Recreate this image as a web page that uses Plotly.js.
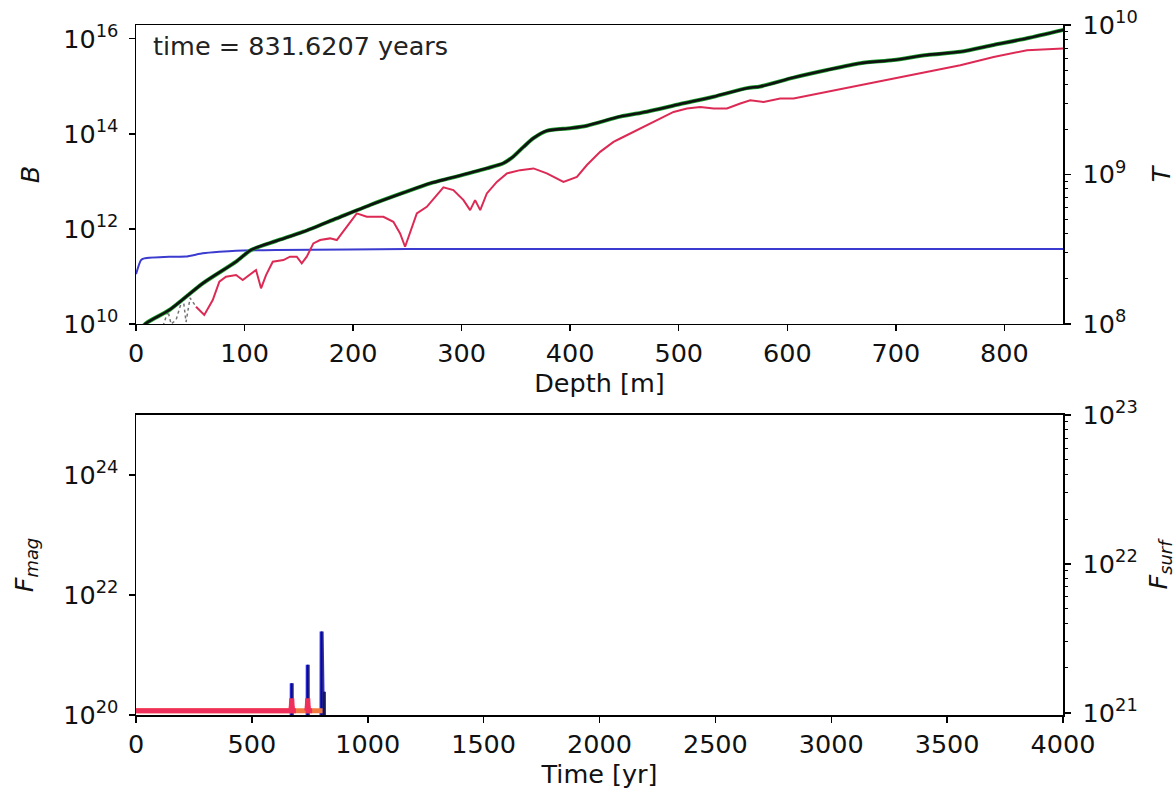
<!DOCTYPE html>
<html>
<head>
<meta charset="utf-8">
<script src="https://cdn.plot.ly/plotly-3.0.1.min.js"></script>
<style>
  html, body { margin: 0; padding: 0; background: #ffffff; }
  #chart { width: 1176px; height: 801px; }
</style>
</head>
<body>
<div id="chart"></div>
<script>
// ---------------- DATA ----------------
// Top panel: profiles versus depth [m]
const tempDepth = [0, 9.2, 30.7, 61.5, 92.2, 106.0, 129.0, 154.2, 185.0, 215.7, 246.4, 271.0, 292.4,
  323.2, 338.5, 347.7, 357.0, 366.2, 378.5, 400.0, 415.4, 446.1, 470.7, 501.4, 532.0, 562.9,
  575.1, 605.8, 636.6, 667.3, 698.0, 728.8, 759.4, 790.1, 820.9, 854.4];
const tempT = [8.5e7, 1.01e8, 1.24e8, 1.87e8, 2.61e8, 3.13e8, 3.59e8, 4.14e8, 5.09e8, 6.25e8, 7.55e8,
  8.73e8, 9.57e8, 1.10e9, 1.19e9, 1.32e9, 1.53e9, 1.75e9, 1.96e9, 2.04e9, 2.12e9, 2.44e9, 2.63e9,
  2.96e9, 3.31e9, 3.78e9, 3.88e9, 4.45e9, 5.00e9, 5.55e9, 5.83e9, 6.30e9, 6.62e9, 7.35e9, 8.15e9, 9.27e9];

const fieldDepth = [55.3, 62.9, 70.7, 76.8, 82.9, 92.2, 98.3, 104.4, 110.6, 115.2, 119.8, 126.0, 135.8,
  141.9, 148.1, 152.7, 157.3, 163.4, 169.6, 178.8, 185.0, 189.6, 197.2, 203.4, 212.6, 227.9, 237.1,
  243.3, 247.9, 252.5, 258.7, 267.9, 283.2, 292.4, 301.7, 307.8, 312.4, 317.1, 323.2, 332.4, 341.7,
  353.9, 366.2, 378.5, 393.8, 406.2, 415.4, 427.6, 439.9, 446.1, 458.3, 470.7, 482.9, 495.2, 507.6,
  519.8, 532.1, 544.4, 556.7, 565.9, 578.2, 593.5, 605.8, 636.6, 667.3, 698.0, 728.8, 759.4, 790.1,
  820.9, 854.4];
const fieldB = [2.31e10, 1.55e10, 3.19e10, 7.74e10, 9.86e10, 1.07e11, 8.39e10, 1.07e11, 1.36e11, 5.62e10,
  1.07e11, 2.04e11, 2.21e11, 2.60e11, 2.60e11, 1.88e11, 2.60e11, 4.95e11, 5.82e11, 6.31e11, 5.82e11,
  8.04e11, 1.41e12, 2.12e12, 1.80e12, 1.80e12, 1.41e12, 8.04e11, 4.21e11, 8.04e11, 2.12e12, 2.91e12,
  7.45e12, 6.53e12, 4.03e12, 2.48e12, 4.03e12, 2.48e12, 5.57e12, 9.75e12, 1.47e13, 1.72e13, 1.87e13,
  1.47e13, 9.75e12, 1.24e13, 2.20e13, 4.17e13, 6.76e13, 7.96e13, 1.10e14, 1.52e14, 2.10e14, 2.88e14,
  3.40e14, 3.67e14, 3.40e14, 3.40e14, 4.34e14, 5.08e14, 4.68e14, 5.52e14, 5.52e14, 7.59e14, 1.05e15,
  1.45e15, 2.00e15, 2.76e15, 4.13e15, 5.70e15, 6.19e15];

const shallowDepth = [24.9, 29.5, 32.3, 36.9, 43.3, 46.1, 49.8, 55.3];
const shallowB = [9.1e9, 1.87e10, 1.0e10, 1.21e10, 3.69e10, 1.10e10, 3.52e10, 2.31e10];

const flatDepth = [0, 4.6, 7.6, 30.7, 46.0, 61.5, 76.8, 92.2, 129.0, 250.0, 854.4];
const flatB = [1.12e11, 2.21e11, 2.40e11, 2.60e11, 2.62e11, 3.06e11, 3.30e11, 3.47e11, 3.59e11, 3.77e11, 3.77e11];

// Bottom panel: fluxes versus time [yr]
const magTime = [0, 671, 672, 673, 740, 741, 742, 800, 801, 802, 810, 811, 812, 831.6];
const fMag = [1e19, 1e19, 3.39e20, 1e19, 1e19, 6.86e20, 1e19, 1e19, 2.47e21, 1e19, 1e19, 2.45e20, 1e19, 1e19];

const surfTime = [0, 668, 670, 672, 674, 676, 690, null, 732, 737, 739, 741, 743, 745, 760];
const fSurf = [1.03e21, 1.03e21, 1.1e21, 1.25e21, 1.1e21, 1.03e21, 1.03e21, null, 1.03e21, 1.03e21,
  1.1e21, 1.25e21, 1.1e21, 1.03e21, 1.03e21];
const surfTime2 = [0, 805];
const fSurf2 = [1.03e21, 1.03e21];

// Tick labels
const depthTicks = [0, 100, 200, 300, 400, 500, 600, 700, 800];
const bTicks = [1e10, 1e12, 1e14, 1e16];
const bTickText = ['10<sup>10</sup>', '10<sup>12</sup>', '10<sup>14</sup>', '10<sup>16</sup>'];
const tTicks = [1e8, 1e9, 1e10];
const tTickText = ['10<sup>8</sup>', '10<sup>9</sup>', '10<sup>10</sup>'];
const timeTicks = [0, 500, 1000, 1500, 2000, 2500, 3000, 3500, 4000];
const magTicks = [1e20, 1e22, 1e24];
const magTickText = ['10<sup>20</sup>', '10<sup>22</sup>', '10<sup>24</sup>'];
const surfTicks = [1e21, 1e22, 1e23];
const surfTickText = ['10<sup>21</sup>', '10<sup>22</sup>', '10<sup>23</sup>'];
const timeLabel = 'time = 831.6207 years';

const FONT = 'DejaVu Sans, Liberation Sans, sans-serif';
const FS = 25.5;

const traces = [
  {x: flatDepth, y: flatB, xaxis: 'x', yaxis: 'y', mode: 'lines',
   line: {color: '#3b3bd0', width: 2, shape: 'spline', smoothing: 0.6}, hoverinfo: 'skip'},
  {x: shallowDepth, y: shallowB, xaxis: 'x', yaxis: 'y', mode: 'lines',
   line: {color: 'rgba(70,70,70,0.75)', width: 1.5, dash: 'dot'}, hoverinfo: 'skip'},
  {x: fieldDepth, y: fieldB, xaxis: 'x', yaxis: 'y', mode: 'lines',
   line: {color: '#dc2a55', width: 2}, hoverinfo: 'skip'},
  {x: tempDepth, y: tempT, xaxis: 'x', yaxis: 'y2', mode: 'lines',
   line: {color: '#18a02a', width: 4, shape: 'spline', smoothing: 0.7}, hoverinfo: 'skip'},
  {x: tempDepth, y: tempT, xaxis: 'x', yaxis: 'y2', mode: 'lines',
   line: {color: '#111111', width: 2.6, shape: 'spline', smoothing: 0.7}, hoverinfo: 'skip'},

  {x: surfTime2, y: fSurf2, xaxis: 'x2', yaxis: 'y4', mode: 'lines',
   line: {color: '#f07a40', width: 5}, hoverinfo: 'skip'},
  {x: surfTime, y: fSurf, xaxis: 'x2', yaxis: 'y4', mode: 'lines',
   line: {color: '#f0305c', width: 5}, connectgaps: false, hoverinfo: 'skip'},
  {x: magTime, y: fMag, xaxis: 'x2', yaxis: 'y3', mode: 'lines',
   line: {color: '#2a2ae0', width: 4}, hoverinfo: 'skip'},
  {x: magTime, y: fMag, xaxis: 'x2', yaxis: 'y3', mode: 'lines',
   line: {color: '#14143a', width: 1.6}, hoverinfo: 'skip'}
];

const axisCommon = {
  showgrid: false, zeroline: false, showline: true, linecolor: '#000', linewidth: 1.5,
  ticks: 'outside', ticklen: 6, tickwidth: 1.5, tickcolor: '#000',
  tickfont: {family: FONT, size: FS, color: '#111'}, automargin: false
};
const minorTicks = {tickmode: 'linear', dtick: 'D1', ticks: 'outside', ticklen: 3.5,
  tickwidth: 1, tickcolor: '#000', showgrid: false};

const layout = {
  width: 1176, height: 801,
  margin: {l: 136, r: 113, t: 25, b: 86, pad: 0},
  paper_bgcolor: '#ffffff', plot_bgcolor: '#ffffff',
  showlegend: false,
  font: {family: FONT, size: FS, color: '#111'},
  xaxis: Object.assign({}, axisCommon, {
    domain: [0, 1], anchor: 'y', range: [0, 854], mirror: true,
    tickmode: 'array', tickvals: depthTicks,
    title: {text: 'Depth [m]', font: {family: FONT, size: FS, color: '#111'}, standoff: 2}
  }),
  yaxis: Object.assign({}, axisCommon, {
    domain: [0.5667, 1], anchor: 'x', type: 'log', range: [10, 16.288],
    tickmode: 'array', tickvals: bTicks, ticktext: bTickText, ticklabelstandoff: 5,
    title: {text: '<i>B</i>', font: {family: FONT, size: FS, color: '#111'}, standoff: 16}
  }),
  yaxis2: Object.assign({}, axisCommon, {
    overlaying: 'y', side: 'right', anchor: 'x', type: 'log', range: [8, 10],
    tickmode: 'array', tickvals: tTicks, ticktext: tTickText, ticklabelstandoff: 7,
    minor: minorTicks,
    title: {text: '<i>T</i>', font: {family: FONT, size: FS, color: '#111'}, standoff: 18}
  }),
  xaxis2: Object.assign({}, axisCommon, {
    domain: [0, 1], anchor: 'y3', range: [0, 4000], mirror: true,
    tickmode: 'array', tickvals: timeTicks,
    title: {text: 'Time [yr]', font: {family: FONT, size: FS, color: '#111'}, standoff: 2}
  }),
  yaxis3: Object.assign({}, axisCommon, {
    domain: [0, 0.4348], anchor: 'x2', type: 'log', range: [20, 25],
    tickmode: 'array', tickvals: magTicks, ticktext: magTickText, ticklabelstandoff: 5,
    title: {text: '<i>F</i><sub><i>mag</i></sub>', font: {family: FONT, size: FS, color: '#111'}, standoff: 22}
  }),
  yaxis4: Object.assign({}, axisCommon, {
    overlaying: 'y3', side: 'right', anchor: 'x2', type: 'log', range: [20.985, 23],
    tickmode: 'array', tickvals: surfTicks, ticktext: surfTickText, ticklabelstandoff: 7,
    minor: minorTicks,
    title: {text: '<i>F</i><sub><i>surf</i></sub>', font: {family: FONT, size: FS, color: '#111'}, standoff: 16}
  }),
  annotations: [{
    text: timeLabel, xref: 'x domain', yref: 'y domain', x: 0.016, y: 0.93,
    xanchor: 'left', yanchor: 'middle', showarrow: false,
    font: {family: FONT, size: FS, color: '#222'}
  }]
};

Plotly.newPlot('chart', traces, layout, {staticPlot: true, displayModeBar: false});
</script>
</body>
</html>
